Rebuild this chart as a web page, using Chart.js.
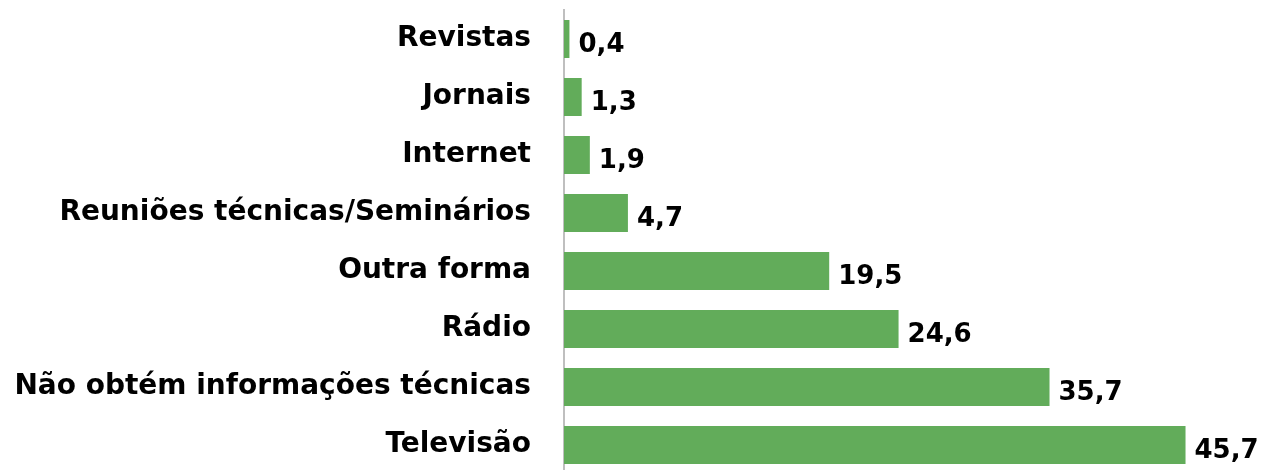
<!DOCTYPE html>
<html>
<head>
<meta charset="utf-8">
<script src="https://cdn.jsdelivr.net/npm/chart.js@4"></script>
<style>
  html, body { margin: 0; padding: 0; background: #fff; overflow: hidden; }
  #wrap { width: 1261px; height: 474px; position: relative; }
</style>
</head>
<body>
<div id="wrap"><canvas id="myChart"></canvas></div>
<script>
const categories = ['Revistas', 'Jornais', 'Internet', 'Reuniões técnicas/Seminários',
  'Outra forma', 'Rádio', 'Não obtém informações técnicas', 'Televisão'];
const values = [0.4, 1.3, 1.9, 4.7, 19.5, 24.6, 35.7, 45.7];

const fontFam = '"DejaVu Sans", sans-serif';

// draws the value next to each bar
const valueLabels = {
  id: 'valueLabels',
  afterDatasetsDraw(chart) {
    const ctx = chart.ctx;
    const meta = chart.getDatasetMeta(0);
    ctx.save();
    ctx.fillStyle = '#000';
    ctx.font = 'bold 26px ' + fontFam;
    ctx.textAlign = 'left';
    ctx.textBaseline = 'middle';
    meta.data.forEach(function(bar, i){
      const txt = values[i].toFixed(1).replace('.', ',');
      ctx.fillText(txt, bar.x + 9, bar.y + 6);
    });
    ctx.restore();
  }
};

let ctx = document.getElementById('myChart').getContext('2d');
let myChart = new Chart(ctx, {
  type: 'bar',
  data: {
    labels: categories,
    datasets: [{
      data: values,
      backgroundColor: '#62ac5a',
      borderWidth: 0,
      categoryPercentage: 1,
      barPercentage: 0.655
    }]
  },
  options: {
    indexAxis: 'y',
    responsive: true,
    maintainAspectRatio: false,
    animation: false,
    layout: { padding: { top: 10, right: 17, bottom: 0, left: 0 } },
    plugins: { legend: { display: false }, tooltip: { enabled: false } },
    scales: {
      x: { display: false, min: 0, max: 50 },
      y: {
        grid: { display: false, drawTicks: false },
        border: { display: true, color: '#bfbfbf', width: 2 },
        ticks: {
          color: '#000',
          padding: 33,
          font: { family: fontFam, size: 28, weight: 'bold' }
        },
        afterFit: function(scale){
          scale.width = 564;
          scale.paddingTop = 0;
          scale.paddingBottom = 0;
        }
      }
    }
  },
  plugins: [valueLabels]
});
</script>
</body>
</html>
